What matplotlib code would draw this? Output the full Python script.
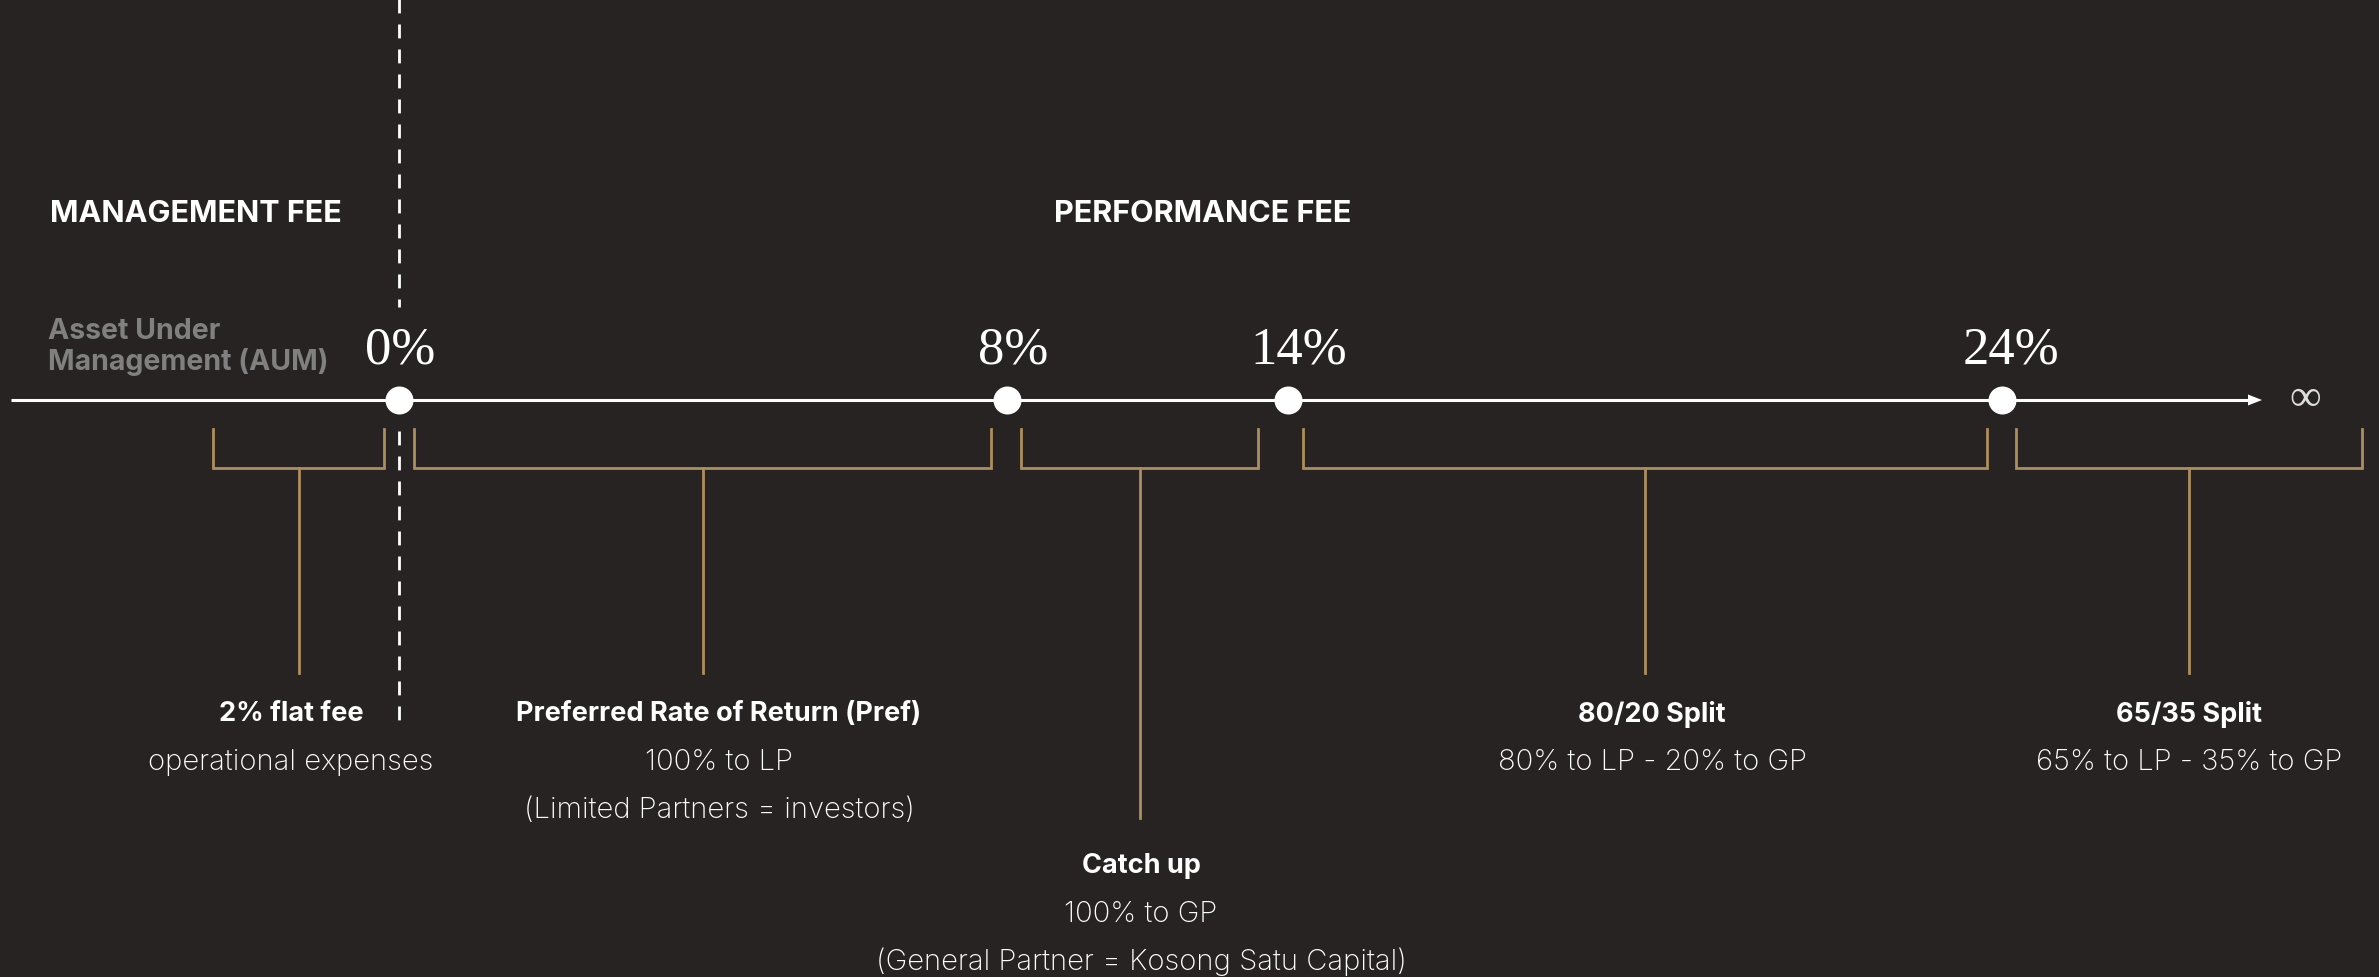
import matplotlib
matplotlib.use("Agg")
import matplotlib.pyplot as plt
from matplotlib.patches import FancyArrow

# ---------------- data ----------------
milestones = [0, 8, 14, 24]
milestone_labels = ["0%", "8%", "14%", "24%"]
infinity_label = "∞"
section_titles = ["MANAGEMENT FEE", "PERFORMANCE FEE"]
aum_label = "Asset Under\nManagement (AUM)"
tier_titles = ["2% flat fee", "Preferred Rate of Return (Pref)", "Catch up",
               "80/20 Split", "65/35 Split"]
tier_lines = [
    ["operational expenses"],
    ["100% to LP", "(Limited Partners = investors)"],
    ["100% to GP", "(General Partner = Kosong Satu Capital)"],
    ["80% to LP - 20% to GP"],
    ["65% to LP - 35% to GP"],
]

# ---------------- layout (pixel coordinates) ----------------
W, H = 2379, 978
BG = "#272322"
GOLD = "#AD8E5E"
milestone_x = [399, 1007, 1288, 2002]
label_x = [400, 1013, 1299, 2011]
axis_y = 401
axis_start, axis_end = 11, 2262
bracket_spans = [(213, 384), (414, 991), (1021, 1258), (1303, 1987), (2016, 2362)]
bracket_top, bracket_bot = 430, 469
stem_bottom = [674, 674, 819, 674, 674]
text_x = [291, 719, 1141, 1652, 2189]
text_y0 = [714, 714, 866, 714, 714]
line_step = 48

SANS = ["Inter", "DejaVu Sans"]
SERIF = ["Liberation Serif", "DejaVu Serif"]

fig = plt.figure(figsize=(W / 100, H / 100), dpi=100, facecolor=BG)
ax = fig.add_axes([0, 0, 1, 1])
ax.set_facecolor(BG)
ax.set_xlim(0, W)
ax.set_ylim(H, 0)
ax.axis("off")

# dashed separator
ax.plot([399, 399], [0, 308], color="white", lw=2, dashes=(5, 4))
ax.plot([399, 399], [432, 730], color="white", lw=2, dashes=(5, 4))

# axis line with arrow
ax.plot([axis_start, axis_end - 12], [axis_y, axis_y], color="white", lw=2.2,
        solid_capstyle="butt")
ax.add_patch(FancyArrow(axis_end - 14, axis_y, 14, 0, width=0, head_width=11,
                        head_length=14, length_includes_head=True,
                        color="white", lw=0))

# milestone dots & labels
ax.scatter(milestone_x, [axis_y] * len(milestone_x), s=(28 * 0.72) ** 2,
           color="white", zorder=5, linewidths=0)
for x, lab in zip(label_x, milestone_labels):
    ax.text(x, 350, lab, color="white", fontsize=38, family=SERIF,
            ha="center", va="center")
ax.text(2305, 399, infinity_label, color="#dddddd", fontsize=32, family=SERIF,
        ha="center", va="center")

# section titles
ax.text(50, 214, section_titles[0], color="white", fontsize=22, family=SANS,
        fontweight="bold", ha="left", va="center")
ax.text(1203, 214, section_titles[1], color="white", fontsize=22, family=SANS,
        fontweight="bold", ha="center", va="center")
ax.text(48, 347, aum_label, color="#808080", fontsize=20.5, family=SANS,
        fontweight="bold", ha="left", va="center", linespacing=1.1)

# brackets
for i, (x0, x1) in enumerate(bracket_spans):
    ax.plot([x0, x0, x1, x1], [bracket_top, bracket_bot, bracket_bot, bracket_top],
            color=GOLD, lw=2, solid_joinstyle="miter")
    xm = (x0 + x1) / 2
    ax.plot([xm, xm], [bracket_bot, stem_bottom[i]], color=GOLD, lw=2)

    ax.text(text_x[i], text_y0[i], tier_titles[i], color="white", fontsize=19.5,
            family=SANS, fontweight="bold", ha="center", va="center")
    for j, line in enumerate(tier_lines[i]):
        ax.text(text_x[i], text_y0[i] + line_step * (j + 1), line, color="white",
                fontsize=21, family=SANS, fontweight="light", ha="center",
                va="center")

fig.savefig("out.png", dpi=100, facecolor=BG)
